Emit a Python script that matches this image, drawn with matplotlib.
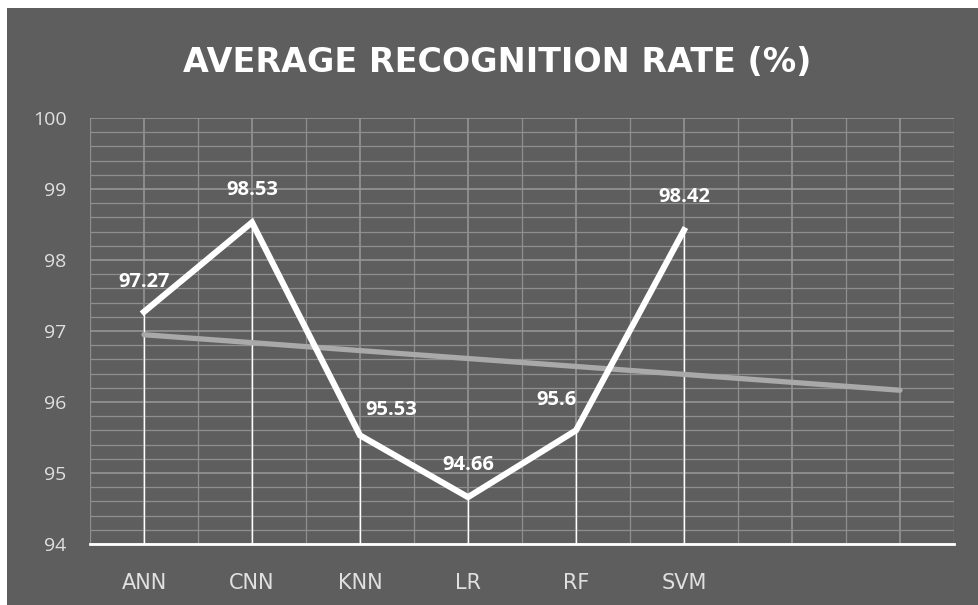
import numpy as np
import matplotlib.pyplot as plt
from matplotlib.patches import Rectangle
from matplotlib.ticker import MultipleLocator

# data
models = ["ANN", "CNN", "KNN", "LR", "RF", "SVM"]
n_slots = 8          # the category axis has two empty slots after SVM
rates = [97.27, 98.53, 95.53, 94.66, 95.6, 98.42]
label_text = ["97.27", "98.53", "95.53", "94.66", "95.6", "98.42"]

# hand-placed data labels (pixel offsets from the point)
lab_dx = [0, 0, 31, 0, -19, 0]
lab_dy = [30, 32, 25, 32, 30, 33]

bg = "#5e5e5e"
grid_c = "#8f8f8f"

fig = plt.figure(figsize=(9.79, 6.05), dpi=100)
fig.patch.set_facecolor("white")
fig.patches.append(Rectangle((7/979, 0), 1 - 7/979, 1 - 8/605, transform=fig.transFigure,
                             facecolor=bg, edgecolor="none", zorder=-5))

ax = fig.add_axes([90/979, 1 - 544/605, (954 - 90)/979, (544 - 118)/605])
ax.set_facecolor(bg)

x = np.arange(len(models))
ax.set_xlim(-0.5, n_slots - 0.5)
ax.set_ylim(94, 100)

# grid
ax.yaxis.set_major_locator(MultipleLocator(1))
ax.yaxis.set_minor_locator(MultipleLocator(0.2))
ax.set_xticks(np.arange(n_slots))
ax.set_xticks(np.arange(-0.5, n_slots, 0.5), minor=True)
ax.grid(True, which="major", axis="both", color="#999999", lw=1.1, zorder=1)
ax.grid(True, which="minor", axis="both", color=grid_c, lw=0.9, zorder=1)
ax.set_axisbelow(True)

for s in ["top", "right", "left"]:
    ax.spines[s].set_visible(False)
ax.spines["bottom"].set_color("white")
ax.spines["bottom"].set_linewidth(2)
ax.spines["bottom"].set_zorder(6)

# trendline (linear, forecast forward over the empty slots)
k, b = np.polyfit(x, rates, 1)
xt = np.arange(n_slots)
ax.plot([xt[0], xt[-1]], [k*xt[0] + b, k*xt[-1] + b], color="#a9a9a9", lw=3.8,
        solid_capstyle="round", zorder=3)

# drop lines
ax.vlines(x, 94, rates, color="white", lw=1.0, zorder=2)

# main series
ax.plot(x, rates, color="white", lw=4.4, solid_joinstyle="miter", zorder=4)

for i in range(len(models)):
    ax.annotate(label_text[i], (x[i], rates[i]), xytext=(lab_dx[i]*0.72, lab_dy[i]*0.72),
                textcoords="offset points", ha="center", va="center",
                color="white", fontsize=14.5, fontweight="bold", family="Open Sans", zorder=5)

ax.set_xticklabels(models + [""] * (n_slots - len(models)))
ax.tick_params(axis="x", which="both", length=0, pad=21, labelsize=15, labelcolor="#e0e0e0")
ax.tick_params(axis="y", which="both", length=0, pad=17, labelsize=14, labelcolor="#e0e0e0")
for t in ax.get_xticklabels():
    t.set_family("DejaVu Sans")
for t in ax.get_yticklabels():
    t.set_family("Open Sans")

fig.text(497/979, 1 - 62/605, "AVERAGE RECOGNITION RATE (%)", ha="center", va="center",
         color="white", fontsize=24, fontweight="bold", family="DejaVu Sans")

fig.savefig("out.png", dpi=100, facecolor=fig.get_facecolor())
